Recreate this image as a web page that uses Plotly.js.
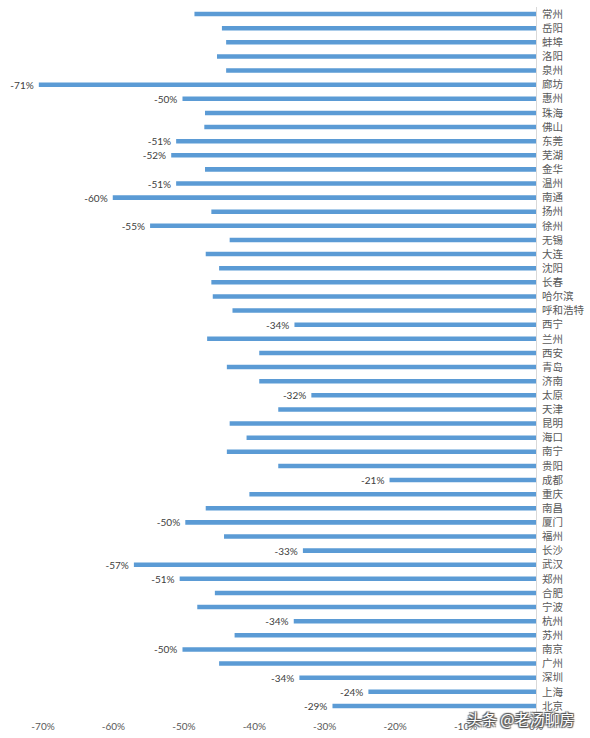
<!DOCTYPE html>
<html>
<head>
<meta charset="utf-8">
<script src="https://cdn.plot.ly/plotly-3.0.1.min.js"></script>
<style>html,body{margin:0;padding:0;background:#fff;}#chart{width:590px;height:738px;}</style>
</head>
<body>
<div id="chart"></div>
<script>
// Cities, top to bottom as shown
var cities = ["常州","岳阳","蚌埠","洛阳","泉州","廊坊","惠州","珠海","佛山","东莞","芜湖","金华","温州","南通","扬州","徐州","无锡","大连","沈阳","长春","哈尔滨","呼和浩特","西宁","兰州","西安","青岛","济南","太原","天津","昆明","海口","南宁","贵阳","成都","重庆","南昌","厦门","福州","长沙","武汉","郑州","合肥","宁波","杭州","苏州","南京","广州","深圳","上海","北京"];
// Change (fraction)
var changes = [-0.485,-0.446,-0.440,-0.453,-0.440,-0.706,-0.502,-0.470,-0.471,-0.511,-0.518,-0.470,-0.511,-0.601,-0.461,-0.548,-0.435,-0.469,-0.450,-0.461,-0.459,-0.431,-0.343,-0.467,-0.393,-0.439,-0.393,-0.319,-0.366,-0.435,-0.411,-0.439,-0.366,-0.208,-0.407,-0.469,-0.498,-0.443,-0.331,-0.571,-0.506,-0.456,-0.481,-0.344,-0.428,-0.502,-0.450,-0.336,-0.238,-0.289];
// Cities whose value label is shown
var labelled = ["廊坊","惠州","东莞","芜湖","温州","南通","徐州","西宁","太原","成都","厦门","长沙","武汉","郑州","杭州","南京","深圳","上海","北京"];
var tickVals = [-0.7,-0.6,-0.5,-0.4,-0.3,-0.2,-0.1,0];
var tickText = ["-70%","-60%","-50%","-40%","-30%","-20%","-10%","0%"];

var labels = cities.map(function(c,i){
  return labelled.indexOf(c) >= 0 ? Math.round(changes[i]*100) + "%\u00a0\u00a0" : "";
});

var trace = {
  type: "bar",
  orientation: "h",
  y: cities,
  x: changes,
  text: labels,
  textposition: "outside",
  constraintext: "none",
  cliponaxis: false,
  textfont: {family: "Lato, 'Noto Sans CJK SC', sans-serif", size: 10, color: "#404040"},
  marker: {color: "#5B9BD5"},
  hoverinfo: "none"
};

var layout = {
  width: 590, height: 738,
  margin: {l: 36, r: 54, t: 7, b: 25},
  paper_bgcolor: "#fff", plot_bgcolor: "#fff",
  bargap: 0.68,
  showlegend: false,
  xaxis: {
    range: [-0.71, 0],
    tickvals: tickVals, ticktext: tickText,
    showgrid: false, zeroline: false, showline: false, ticks: "",
    ticklabelstandoff: 6,
    tickfont: {family: "Lato, 'Noto Sans CJK SC', sans-serif", size: 10, color: "#595959"},
    fixedrange: true
  },
  yaxis: {
    type: "category",
    autorange: "reversed",
    side: "right",
    showgrid: false, zeroline: false,
    showline: true, linecolor: "#d9d9d9", linewidth: 1,
    ticks: "", ticklabelstandoff: 3,
    tickfont: {family: "'Noto Sans CJK SC', sans-serif", size: 10.5, color: "#595959"},
    fixedrange: true
  },
  annotations: [{
    xref: "paper", yref: "paper",
    x: 1.082, y: -0.008, xanchor: "right", yanchor: "middle",
    text: "头条 @老汤聊房", showarrow: false,
    font: {family: "'Noto Sans CJK SC', sans-serif", size: 15, color: "#ffffff",
           shadow: "1px 1px 1px #555, -1px -1px 1px #555, 1px -1px 1px #555, -1px 1px 1px #555"}
  }]
};

Plotly.newPlot("chart", [trace], layout, {displayModeBar: false, staticPlot: true});
</script>
</body>
</html>
